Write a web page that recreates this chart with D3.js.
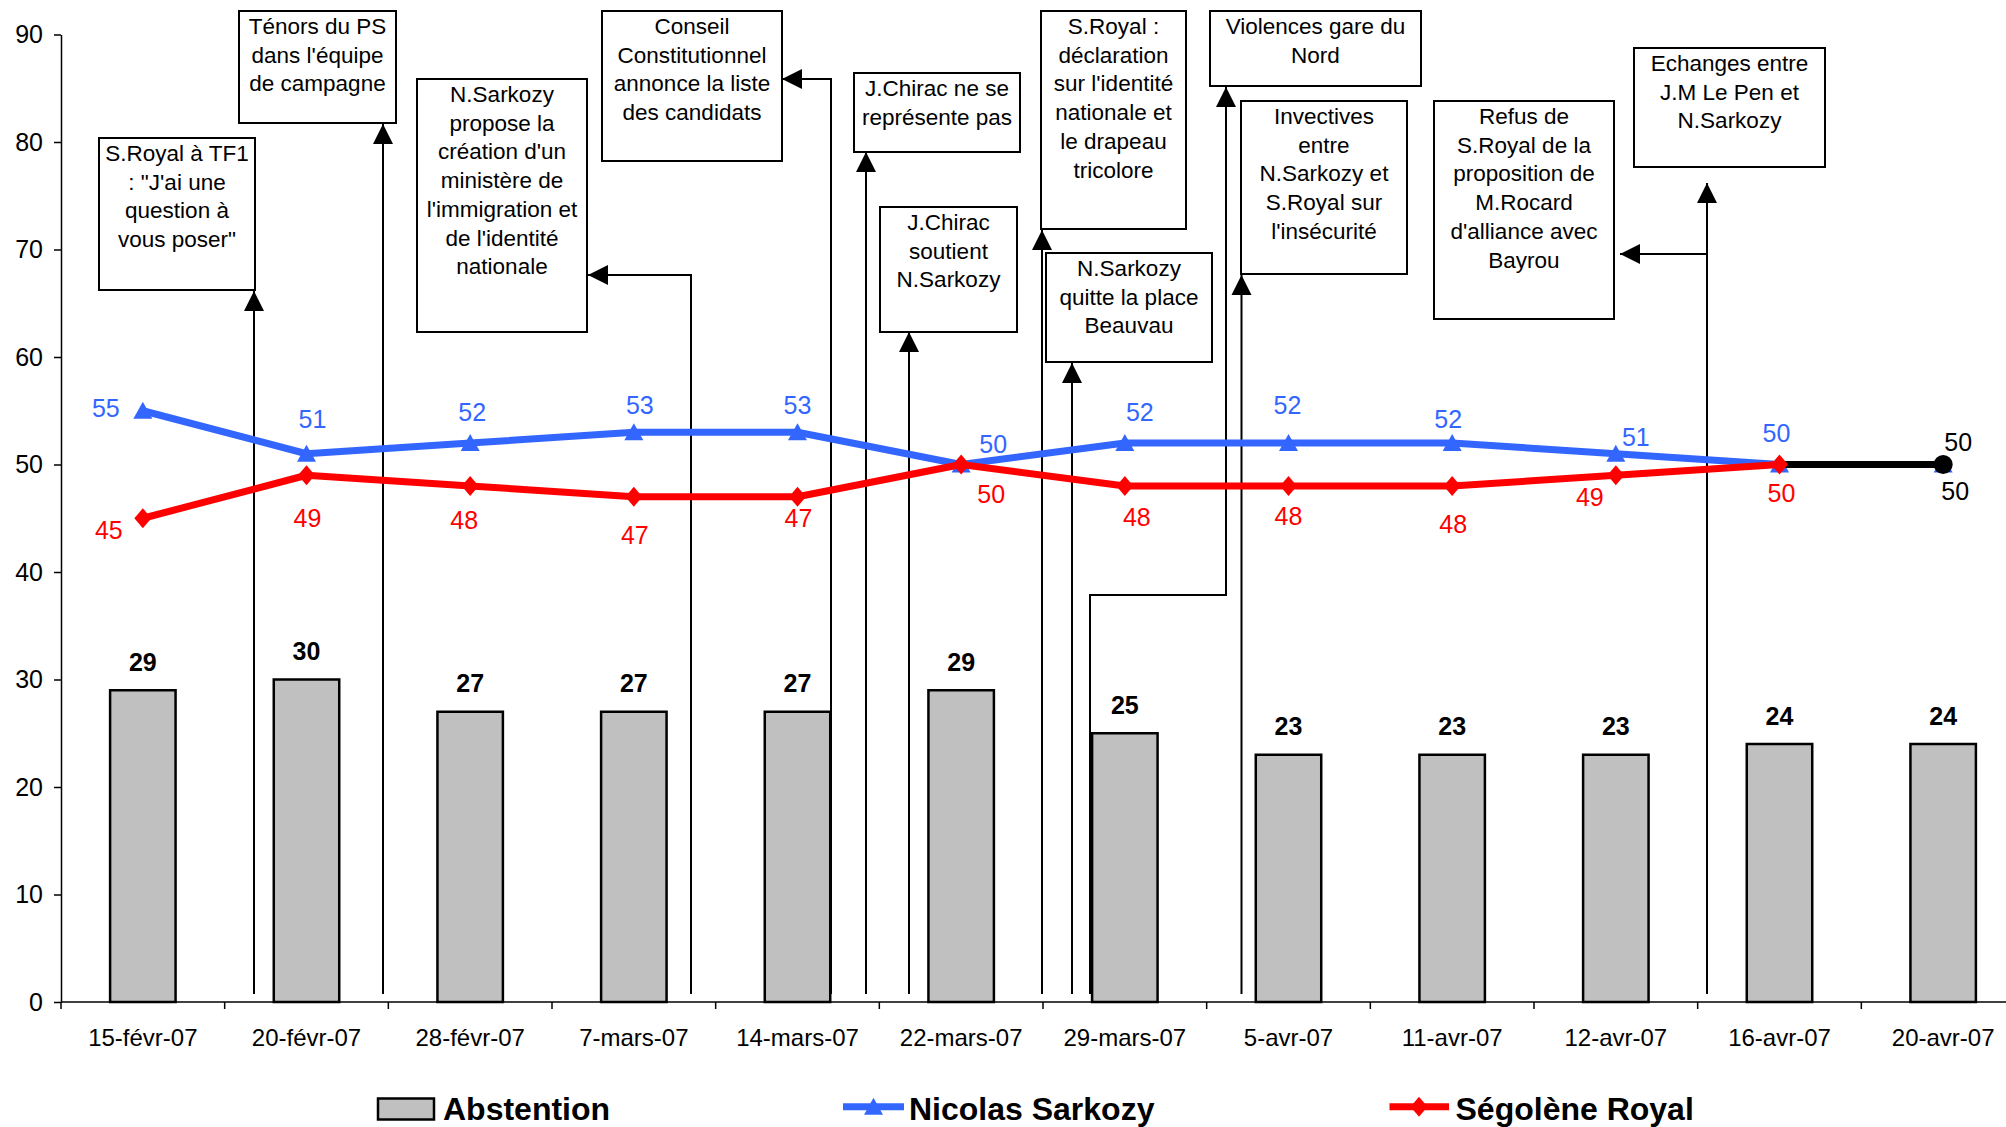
<!DOCTYPE html>
<html><head><meta charset="utf-8">
<script src="https://cdn.jsdelivr.net/npm/d3@7/dist/d3.min.js"></script>
<style>
body{margin:0;background:#fff}
svg{display:block}
text{font-family:"Liberation Sans",Arial,Helvetica,sans-serif}
</style>
</head><body>
<svg id="chart" width="2006" height="1127"></svg>
<script>
// ---------- DATA ----------
const categories = ["15-févr-07","20-févr-07","28-févr-07","7-mars-07","14-mars-07","22-mars-07","29-mars-07","5-avr-07","11-avr-07","12-avr-07","16-avr-07","20-avr-07"];
const abstention = [29,30,27,27,27,29,25,23,23,23,24,24];
const sarkozy    = [55,51,52,53,53,50,52,52,52,51,50,50];
const royal      = [45,49,48,47,47,50,48,48,48,49,50,50];
const yTicks = [0,10,20,30,40,50,60,70,80,90];
const seriesNames = ["Abstention","Nicolas Sarkozy","Ségolène Royal"];
const eventTexts = [
  ["S.Royal à TF1", ": \"J'ai une", "question à", "vous poser\""],
  ["Ténors du PS", "dans l'équipe", "de campagne"],
  ["N.Sarkozy", "propose la", "création d'un", "ministère de", "l'immigration et", "de l'identité", "nationale"],
  ["Conseil", "Constitutionnel", "annonce la liste", "des candidats"],
  ["J.Chirac ne se", "représente pas"],
  ["J.Chirac", "soutient", "N.Sarkozy"],
  ["S.Royal :", "déclaration", "sur l'identité", "nationale et", "le drapeau", "tricolore"],
  ["N.Sarkozy", "quitte la place", "Beauvau"],
  ["Violences gare du", "Nord"],
  ["Invectives", "entre", "N.Sarkozy et", "S.Royal sur", "l'insécurité"],
  ["Refus de", "S.Royal de la", "proposition de", "M.Rocard", "d'alliance avec", "Bayrou"],
  ["Echanges entre", "J.M Le Pen et", "N.Sarkozy"]
];

// ---------- LAYOUT (pixels) ----------
const plotLeft = 61, plotRight = 2025, plotTop = 34.5, plotBottom = 1002;
const BLUE = "#3366FF", RED = "#FF0000";
// label offsets (center of label relative to point)
const sarkLabelOff = [[-37,-3],[6,-35],[2,-31],[6,-27],[0,-27],[32,-21],[15,-31],[-1,-38],[-4,-24],[20,-17],[-3,-32],[15,-23]];
const royalLabelOff = [[-34,12],[1,43],[-6,33.5],[1,38],[1,21],[30,29],[12,31],[0,30],[1,37.5],[-26,22],[2,28],[12,26]];
// annotation boxes [x0,y0,x1,y1] and arrow paths (last point = arrow tip)
const eventLayout = [
  {box:[99,138,255,290],   path:[[254,994],[254,291]]},
  {box:[239,11,396,123],   path:[[383,994],[383,124]]},
  {box:[417,79,587,332],   path:[[691,994],[691,275],[588,275]]},
  {box:[602,11,782,161],   path:[[831,994],[831,79],[782,79]]},
  {box:[854,73,1020,152],  path:[[866,994],[866,152]]},
  {box:[880,207,1017,332], path:[[909,994],[909,332]]},
  {box:[1041,11,1186,229], path:[[1042,994],[1042,230]]},
  {box:[1046,253,1212,362],path:[[1072,994],[1072,363]]},
  {box:[1210,11,1421,86],  path:[[1090,994],[1090,595],[1226,595],[1226,87]]},
  {box:[1241,101,1407,274],path:[[1241.5,994],[1241.5,275]]},
  {box:[1434,101,1614,319],path:[[1707,254],[1620,254]]},
  {box:[1634,48,1825,167], path:[[1707,994],[1707,183]]}
];

const svg = d3.select("#chart");

const x = d3.scaleBand().domain(categories).range([plotLeft, plotRight]).paddingInner(0).paddingOuter(0);
const y = d3.scaleLinear().domain([0, 90]).range([plotBottom, plotTop]);
const cx = c => x(c) + x.bandwidth() / 2;

// ---------- BARS ----------
const barW = x.bandwidth() * 0.40;
svg.append("g").selectAll("rect").data(abstention).join("rect")
  .attr("x", (d,i) => cx(categories[i]) - barW/2)
  .attr("y", d => y(d))
  .attr("width", barW)
  .attr("height", d => plotBottom - y(d))
  .attr("fill", "#C0C0C0").attr("stroke", "#000").attr("stroke-width", 2.5);

svg.append("g").selectAll("text").data(abstention).join("text")
  .attr("x", (d,i) => cx(categories[i]))
  .attr("y", d => y(d) - 19.5)
  .attr("text-anchor", "middle")
  .attr("font-size", 25).attr("font-weight", "bold").attr("fill", "#000")
  .text(d => d);

// ---------- AXES ----------
const yAxis = svg.append("g").attr("transform", `translate(${plotLeft},0)`)
  .call(d3.axisLeft(y).tickValues(yTicks).tickSize(7).tickPadding(11).tickSizeOuter(0));
yAxis.select(".domain").attr("stroke", "#000").attr("stroke-width", 1.5);
yAxis.selectAll(".tick line").attr("stroke", "#000").attr("stroke-width", 1.5);
yAxis.selectAll(".tick text").attr("font-size", 25).attr("fill", "#000")
  .style("font-family", "'Liberation Sans', Arial, sans-serif");

const xg = svg.append("g");
xg.append("line").attr("x1", plotLeft).attr("x2", plotRight).attr("y1", plotBottom).attr("y2", plotBottom)
  .attr("stroke", "#000").attr("stroke-width", 1.5);
xg.selectAll("line.tk").data(d3.range(categories.length + 1)).join("line").attr("class","tk")
  .attr("x1", i => plotLeft + i * x.step()).attr("x2", i => plotLeft + i * x.step())
  .attr("y1", plotBottom).attr("y2", plotBottom + 7)
  .attr("stroke", "#000").attr("stroke-width", 1.5);
xg.selectAll("text").data(categories).join("text")
  .attr("x", d => cx(d)).attr("y", 1045.5)
  .attr("text-anchor", "middle").attr("font-size", 24).attr("fill", "#000")
  .text(d => d);

// ---------- ANNOTATIONS ----------
function arrowHead(g, p0, p1) {
  const ang = Math.atan2(p1[1] - p0[1], p1[0] - p0[0]);
  const L = 20, W = 10;
  const bx = p1[0] - L * Math.cos(ang), by = p1[1] - L * Math.sin(ang);
  const nx = -Math.sin(ang), ny = Math.cos(ang);
  g.append("polygon")
    .attr("points", [[p1[0], p1[1]], [bx + W*nx, by + W*ny], [bx - W*nx, by - W*ny]].map(p => p.join(",")).join(" "))
    .attr("fill", "#000");
}
const annG = svg.append("g");
eventLayout.forEach((ev, k) => {
  const [x0, y0, x1, y1] = ev.box;
  annG.append("rect").attr("x", x0).attr("y", y0).attr("width", x1 - x0).attr("height", y1 - y0)
    .attr("fill", "#fff").attr("stroke", "#000").attr("stroke-width", 2);
  eventTexts[k].forEach((t, j) => {
    annG.append("text").attr("x", (x0 + x1) / 2).attr("y", y0 + 23 + j * 28.7)
      .attr("text-anchor", "middle").attr("font-size", 22.5).attr("fill", "#000").text(t);
  });
  const pts = ev.path.slice();
  const n = pts.length;
  annG.append("path").attr("d", d3.line()(pts)).attr("fill", "none")
    .attr("stroke", "#000").attr("stroke-width", 2);
  arrowHead(annG, pts[n - 2], pts[n - 1]);
});

// ---------- LINES ----------
const idx = d3.range(categories.length);
const lineGen = d3.line().x(i => cx(categories[i]));

function triangle(g, px, py, color) {
  g.append("path").attr("d", `M${px},${py-9} L${px+9.5},${py+8} L${px-9.5},${py+8} Z`).attr("fill", color);
}
function diamond(g, px, py, color) {
  g.append("path").attr("d", `M${px},${py-10} L${px+8.5},${py} L${px},${py+10} L${px-8.5},${py} Z`).attr("fill", color);
}

const lg = svg.append("g");
// Sarkozy
lg.append("path").attr("d", lineGen.y(i => y(sarkozy[i]))(idx))
  .attr("fill", "none").attr("stroke", BLUE).attr("stroke-width", 7).attr("stroke-linejoin", "round");
idx.forEach(i => triangle(lg, cx(categories[i]), y(sarkozy[i]), BLUE));
// Royal (last segment drawn in black)
const royalMain = idx.slice(0, idx.length - 1);
lg.append("path").attr("d", lineGen.y(i => y(royal[i]))(royalMain))
  .attr("fill", "none").attr("stroke", RED).attr("stroke-width", 7).attr("stroke-linejoin", "round");
lg.append("path").attr("d", lineGen.y(i => y(royal[i]))(idx.slice(idx.length - 2)))
  .attr("fill", "none").attr("stroke", "#000").attr("stroke-width", 7);
royalMain.forEach(i => diamond(lg, cx(categories[i]), y(royal[i]), RED));
const last = idx.length - 1;
lg.append("circle").attr("cx", cx(categories[last])).attr("cy", y(royal[last])).attr("r", 9.5).attr("fill", "#000");

// point labels
const labG = svg.append("g").attr("font-size", 25).attr("text-anchor", "middle");
idx.forEach(i => {
  labG.append("text").attr("x", cx(categories[i]) + sarkLabelOff[i][0]).attr("y", y(sarkozy[i]) + sarkLabelOff[i][1] + 9)
    .attr("fill", i === last ? "#000" : BLUE).text(sarkozy[i]);
  labG.append("text").attr("x", cx(categories[i]) + royalLabelOff[i][0]).attr("y", y(royal[i]) + royalLabelOff[i][1] + 9)
    .attr("fill", i === last ? "#000" : RED).text(royal[i]);
});

// ---------- LEGEND ----------
const leg = svg.append("g").attr("font-size", 32).attr("font-weight", "bold");
leg.append("rect").attr("x", 378).attr("y", 1098.5).attr("width", 56).attr("height", 21)
  .attr("fill", "#C0C0C0").attr("stroke", "#000").attr("stroke-width", 2.5);
leg.append("text").attr("x", 443).attr("y", 1120).text(seriesNames[0]);
leg.append("line").attr("x1", 843).attr("x2", 904).attr("y1", 1106.7).attr("y2", 1106.7)
  .attr("stroke", BLUE).attr("stroke-width", 7);
triangle(leg, 873.5, 1106.7, BLUE);
leg.append("text").attr("x", 909).attr("y", 1120).text(seriesNames[1]);
leg.append("line").attr("x1", 1389.5).attr("x2", 1449).attr("y1", 1106.7).attr("y2", 1106.7)
  .attr("stroke", RED).attr("stroke-width", 7);
diamond(leg, 1419, 1106.7, RED);
leg.append("text").attr("x", 1455.5).attr("y", 1120).text(seriesNames[2]);
</script>
</body></html>
